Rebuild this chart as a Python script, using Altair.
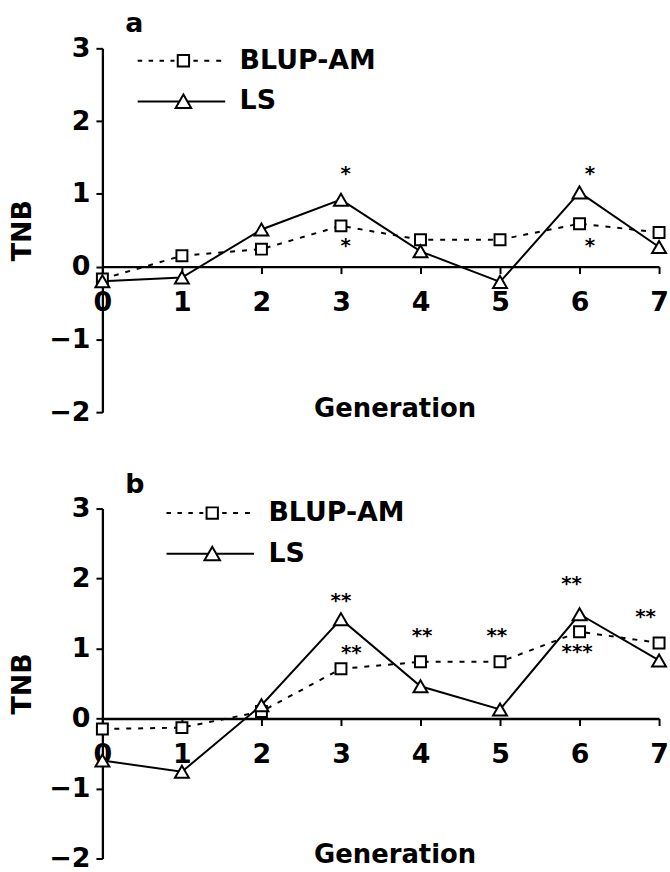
import altair as alt
import pandas as pd

# ---------------- data ----------------
generation = [0, 1, 2, 3, 4, 5, 6, 7]
series_names = ["BLUP-AM", "LS"]

blup_a = [-0.17, 0.15, 0.24, 0.56, 0.37, 0.37, 0.59, 0.47]
ls_a = [-0.20, -0.15, 0.51, 0.92, 0.21, -0.21, 1.02, 0.27]
blup_b = [-0.15, -0.13, 0.10, 0.71, 0.81, 0.81, 1.24, 1.08]
ls_b = [-0.60, -0.76, 0.19, 1.42, 0.46, 0.13, 1.49, 0.83]

stars_a_x = [3.06, 3.06, 6.13, 6.13]
stars_a_y = [1.28, 0.29, 1.29, 0.29]
stars_a_text = ["*", "*", "*", "*"]

stars_b_x = [3.00, 3.13, 4.02, 4.96, 5.90, 5.97, 6.83]
stars_b_y = [1.70, 0.95, 1.19, 1.19, 1.93, 0.96, 1.47]
stars_b_text = ["**", "**", "**", "**", "**", "***", "**"]

y_ticks = [-2, -1, 0, 1, 2, 3]

# ---------------- styling ----------------
FONT = "DejaVu Sans"
W = 560
PATH_BLUP = ("M-4.6,0H-4.15M-3.5,0H-3.05M-2.4,0H-1.95M-1.3,0H-0.9"
             "M-0.57,-0.57H0.57V0.57H-0.57Z"
             "M1.0,0H1.45M2.1,0H2.6M3.3,0H3.8")
PATH_LS = "M-4.6,0H-0.4M0.4,0H4.2M0,-0.7L0.78,0.65L-0.78,0.65Z"


def panel(blup, ls, sx, sy, st, label, H, leg_x, leg_y):
    df = pd.DataFrame({
        "gen": generation * 2,
        "value": blup + ls,
        "series": [series_names[0]] * len(generation) + [series_names[1]] * len(generation),
    })
    stars = pd.DataFrame({"gen": sx, "value": sy, "label": st})
    legend_df = pd.DataFrame({"series": series_names})

    unit = H / 5.0
    x_enc = alt.X(
        "gen:Q",
        scale=alt.Scale(domain=[0, 7], nice=False, zero=False),
        axis=alt.Axis(
            values=generation, format="d", labelAngle=0, offset=-2 * unit,
            tickSize=7, tickWidth=2, domainWidth=2.3, domainColor="black", tickColor="black",
            labelFont=FONT, labelFontSize=27, labelFontWeight="bold", labelColor="black",
            labelPadding=16, labelFlush=False, labelOverlap=False, grid=False,
            title="Generation", titleFont=FONT, titleFontSize=26, titleFontWeight="bold",
            titleColor="black", titleX=294, titleY=2 * unit + 4, titleAlign="center",
            titleBaseline="alphabetic", titleAnchor="middle",
        ),
    )
    y_enc = alt.Y(
        "value:Q",
        scale=alt.Scale(domain=[-2, 3], nice=False, zero=False),
        axis=alt.Axis(
            values=y_ticks, format="d", tickSize=6.5, tickWidth=2, domainWidth=2.3,
            domainColor="black", tickColor="black",
            labelFont=FONT, labelFontSize=27, labelFontWeight="bold", labelColor="black",
            labelPadding=6, labelFlush=False, grid=False,
            title="TNB", titleFont=FONT, titleFontSize=27, titleFontWeight="bold",
            titleColor="black", titleAngle=270, titleX=-72, titleY=H / 2,
            titleAlign="center", titleBaseline="alphabetic",
        ),
    )

    base = alt.Chart(df)
    line_blup = base.transform_filter(alt.datum.series == series_names[0]).mark_line(
        color="black", strokeWidth=2, strokeDash=[5, 7]
    ).encode(x=x_enc, y=y_enc)
    line_ls = base.transform_filter(alt.datum.series == series_names[1]).mark_line(
        color="black", strokeWidth=2
    ).encode(x=x_enc, y=y_enc)
    pts_blup = base.transform_filter(alt.datum.series == series_names[0]).mark_point(
        shape="square", filled=True, fill="white", stroke="black", strokeWidth=2,
        size=121, opacity=1
    ).encode(x=x_enc, y=y_enc)
    pts_ls = base.transform_filter(alt.datum.series == series_names[1]).mark_point(
        shape="triangle-up", filled=True, fill="white", stroke="black", strokeWidth=2,
        size=196, opacity=1
    ).encode(x=x_enc, y=y_enc)
    star_txt = alt.Chart(stars).mark_text(
        font=FONT, fontSize=20, fontWeight="bold", color="black",
        baseline="alphabetic", align="center", dy=7
    ).encode(x=x_enc, y=y_enc, text="label:N")

    legend_layer = alt.Chart(legend_df).transform_filter("false").mark_point(
        color="black", strokeWidth=2, filled=False, opacity=1
    ).encode(
        shape=alt.Shape(
            "series:N",
            scale=alt.Scale(domain=series_names, range=[PATH_BLUP, PATH_LS]),
            legend=alt.Legend(
                title=None, orient="none", legendX=leg_x, legendY=leg_y,
                labelFont=FONT, labelFontSize=27, labelFontWeight="bold",
                labelColor="black", labelLimit=0, labelOffset=43,
                symbolSize=400, symbolStrokeWidth=2, symbolStrokeColor="black",
                symbolFillColor="white", symbolOpacity=1, rowPadding=13, padding=0,
                labelBaseline="middle",
            ),
        )
    )

    return alt.layer(
        line_blup, line_ls, pts_blup, pts_ls, star_txt, legend_layer
    ).properties(
        width=W, height=H,
        title=alt.TitleParams(
            label, anchor="start", frame="group", font=FONT, fontSize=27,
            fontWeight="bold", color="black", dx=23, baseline="alphabetic", offset=-25,
        ),
    )


panel_a = panel(blup_a, ls_a, stars_a_x, stars_a_y, stars_a_text, "a", 366, 68, -1)
panel_b = panel(blup_b, ls_b, stars_b_x, stars_b_y, stars_b_text, "b", 352, 97, -9)

chart = alt.vconcat(panel_a, panel_b, spacing=46).resolve_scale(
    shape="independent"
).resolve_legend(shape="independent").configure_view(stroke=None).properties(
    padding={"left": 9, "top": 8, "right": 0, "bottom": 0}, background="white"
)

chart.save("out.html", embed_options={"renderer": "svg", "actions": False})
